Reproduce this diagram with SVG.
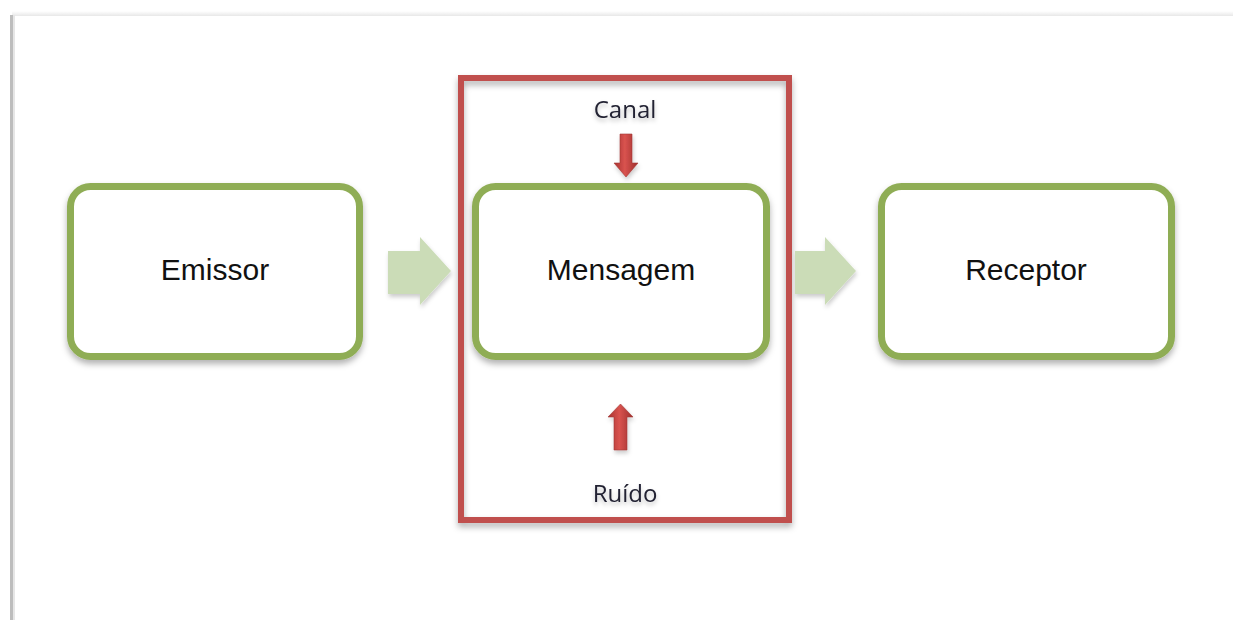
<svg xmlns="http://www.w3.org/2000/svg" width="1233" height="620" viewBox="0 0 1233 620">
<defs>
<style>
.box{fill:#ffffff;stroke:#8fad55;stroke-width:7;filter:url(#sh)}
.lbl{font-family:"Liberation Sans",Arial,sans-serif;font-size:30px;fill:#111111;text-anchor:middle}
.sm{font-family:"Open Sans","Liberation Sans",sans-serif;font-size:24px;fill:#222233;text-anchor:middle;filter:url(#tsh)}
.garrow{fill:#cbdcb7;filter:url(#sh2)}
.rarrow{fill:url(#rg);stroke:#a33b38;stroke-width:0.6;filter:url(#sh2)}
</style>
<filter id="sh" x="-10%" y="-10%" width="120%" height="130%">
<feDropShadow dx="0" dy="4" stdDeviation="3" flood-color="#000" flood-opacity="0.3"/>
</filter>
<filter id="sh2" x="-20%" y="-20%" width="150%" height="150%">
<feDropShadow dx="1" dy="3" stdDeviation="2" flood-color="#000" flood-opacity="0.2"/>
</filter>
<filter id="tsh" x="-20%" y="-30%" width="140%" height="180%">
<feDropShadow dx="0" dy="3" stdDeviation="2" flood-color="#000" flood-opacity="0.25"/>
</filter>
<linearGradient id="rg" x1="0" y1="0" x2="1" y2="0">
<stop offset="0" stop-color="#a8322f"/>
<stop offset="0.45" stop-color="#d9534f"/>
<stop offset="1" stop-color="#9e2f2c"/>
</linearGradient>
<linearGradient id="topg" x1="0" y1="0" x2="0" y2="1">
<stop offset="0" stop-color="#ffffff"/>
<stop offset="1" stop-color="#e8e8e8"/>
</linearGradient>
</defs>
<rect x="0" y="0" width="1233" height="620" fill="#ffffff"/>
<rect x="12" y="11" width="1221" height="5" fill="url(#topg)"/>
<rect x="10" y="15" width="3" height="605" fill="#bdbdbd"/>
<rect x="13" y="15" width="2" height="605" fill="#e6e6e6"/>

<g id="canal-frame">
<rect x="461" y="78" width="328" height="442" fill="none" stroke="#c0504d" stroke-width="6" filter="url(#sh)"/>
</g>

<g id="emissor">
<rect class="box" x="70.5" y="186.5" width="289" height="170" rx="20"/>
<text class="lbl" x="215" y="280">Emissor</text>
</g>
<g id="mensagem">
<rect class="box" x="475.5" y="186.5" width="291" height="170" rx="20"/>
<text class="lbl" x="621" y="280">Mensagem</text>
</g>
<g id="receptor">
<rect class="box" x="881.5" y="186.5" width="290" height="170" rx="20"/>
<text class="lbl" x="1026" y="280">Receptor</text>
</g>

<g id="canal">
<text class="sm" x="625" y="118">Canal</text>
</g>
<g id="ruido">
<text class="sm" x="625" y="502">Ruído</text>
</g>

<g id="connectors">
<polygon class="garrow" points="388,251 420,251 420,237 451,271 420,305 420,294 388,294"/>
<polygon class="garrow" points="795,251 825,251 825,237 856,271 825,305 825,294 795,294"/>
<polygon class="rarrow" points="620,134 632,134 632,163 638,163 626,177 614,163 620,163"/>
<polygon class="rarrow" points="614,450 627,450 627,417 633,417 620.5,404 608,417 614,417"/>
</g>
</svg>
